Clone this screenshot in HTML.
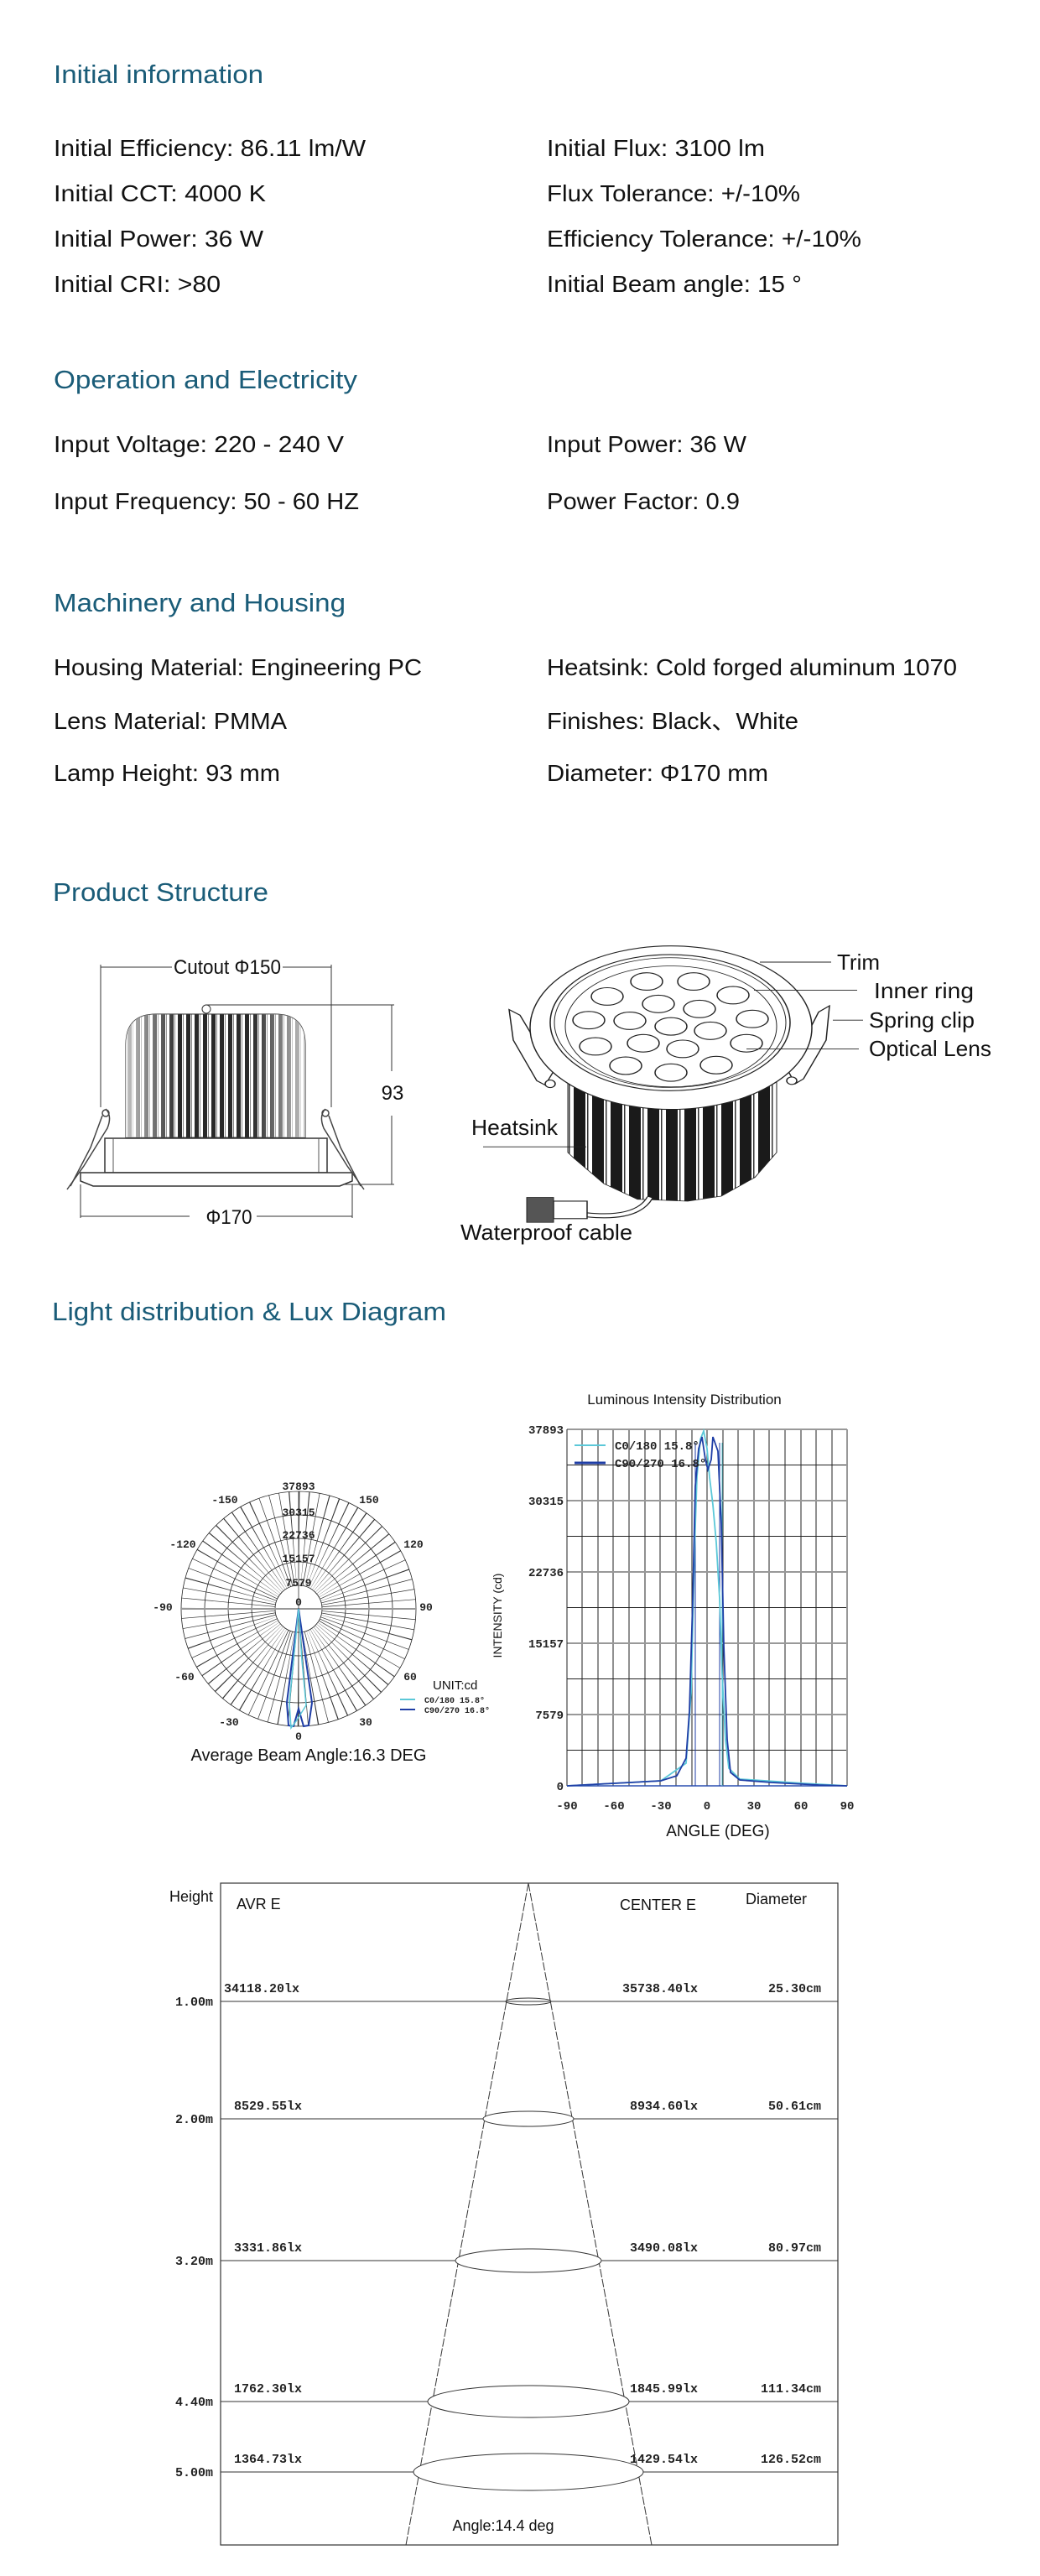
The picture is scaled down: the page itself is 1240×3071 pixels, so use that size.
<!DOCTYPE html>
<html><head><meta charset="utf-8"><style>
html,body{margin:0;padding:0;background:#fff}
svg{display:block}
.h{font-family:"Liberation Sans",sans-serif;font-size:31px;fill:#1a5c78}
.t{font-family:"Liberation Sans","Noto Sans CJK SC",sans-serif;font-size:28px;fill:#111}
.m{font-family:"Liberation Mono",monospace;font-weight:bold;fill:#222}
.s{font-family:"Liberation Sans",sans-serif;fill:#111}
</style></head><body>
<svg width="1240" height="3071" viewBox="0 0 1240 3071" xmlns="http://www.w3.org/2000/svg">
<defs>
<pattern id="fins" x="0" y="0" width="10" height="20" patternUnits="userSpaceOnUse">
<rect x="0" y="0" width="10" height="20" fill="#fff"/><rect x="2" y="0" width="5" height="20" fill="#111"/><rect x="8" y="0" width="1" height="20" fill="#777"/>
</pattern>
<linearGradient id="fade" x1="0" x2="1" y1="0" y2="0">
<stop offset="0" stop-color="#fff" stop-opacity="0.75"/><stop offset="0.3" stop-color="#fff" stop-opacity="0.1"/><stop offset="0.7" stop-color="#fff" stop-opacity="0.1"/><stop offset="1" stop-color="#fff" stop-opacity="0.75"/>
</linearGradient>
<pattern id="hs" x="0" y="0" width="22" height="20" patternUnits="userSpaceOnUse">
<rect width="22" height="20" fill="#fff"/><rect x="2" width="14" height="20" fill="#1a1a1a"/><rect x="18" width="1.5" height="20" fill="#333"/>
</pattern>
</defs>

<!-- Initial information -->
<text class="h" x="64" y="99" textLength="250" lengthAdjust="spacingAndGlyphs">Initial information</text>
<text class="t" x="64" y="186" textLength="372" lengthAdjust="spacingAndGlyphs">Initial  Efficiency: 86.11 lm/W</text>
<text class="t" x="652" y="186" textLength="260" lengthAdjust="spacingAndGlyphs">Initial  Flux: 3100 lm</text>
<text class="t" x="64" y="240" textLength="253" lengthAdjust="spacingAndGlyphs">Initial  CCT: 4000 K</text>
<text class="t" x="652" y="240" textLength="302" lengthAdjust="spacingAndGlyphs">Flux Tolerance: +/-10%</text>
<text class="t" x="64" y="294" textLength="250" lengthAdjust="spacingAndGlyphs">Initial  Power: 36 W</text>
<text class="t" x="652" y="294" textLength="375" lengthAdjust="spacingAndGlyphs">Efficiency Tolerance: +/-10%</text>
<text class="t" x="64" y="348" textLength="199" lengthAdjust="spacingAndGlyphs">Initial  CRI: &gt;80</text>
<text class="t" x="652" y="348" textLength="304" lengthAdjust="spacingAndGlyphs">Initial Beam angle: 15 °</text>

<text class="h" x="64" y="463" textLength="362" lengthAdjust="spacingAndGlyphs">Operation and Electricity</text>
<text class="t" x="64" y="539" textLength="346" lengthAdjust="spacingAndGlyphs">Input Voltage: 220 -  240 V</text>
<text class="t" x="652" y="539" textLength="238" lengthAdjust="spacingAndGlyphs">Input Power: 36 W</text>
<text class="t" x="64" y="607" textLength="364" lengthAdjust="spacingAndGlyphs">Input Frequency: 50 - 60 HZ</text>
<text class="t" x="652" y="607" textLength="230" lengthAdjust="spacingAndGlyphs">Power Factor: 0.9</text>

<text class="h" x="64" y="729" textLength="348" lengthAdjust="spacingAndGlyphs">Machinery and Housing</text>
<text class="t" x="64" y="805" textLength="439" lengthAdjust="spacingAndGlyphs">Housing Material: Engineering PC</text>
<text class="t" x="652" y="805" textLength="489" lengthAdjust="spacingAndGlyphs">Heatsink: Cold forged aluminum 1070</text>
<text class="t" x="64" y="869" textLength="278" lengthAdjust="spacingAndGlyphs">Lens Material: PMMA</text>
<text class="t" x="652" y="869" textLength="300" lengthAdjust="spacingAndGlyphs">Finishes: Black、White</text>
<text class="t" x="64" y="931" textLength="270" lengthAdjust="spacingAndGlyphs">Lamp Height: 93 mm</text>
<text class="t" x="652" y="931" textLength="264" lengthAdjust="spacingAndGlyphs">Diameter: Φ170 mm</text>

<text class="h" x="63" y="1074" textLength="257" lengthAdjust="spacingAndGlyphs">Product Structure</text>

<!-- Left drawing -->
<g stroke="#333" fill="none" stroke-width="1">
<line x1="120" y1="1153" x2="205" y2="1153"/><line x1="337" y1="1153" x2="395" y2="1153"/>
<line x1="120" y1="1150" x2="120" y2="1320"/><line x1="395" y1="1150" x2="395" y2="1320"/>
<line x1="245" y1="1198" x2="470" y2="1198"/>
<line x1="467" y1="1198" x2="467" y2="1277"/><line x1="467" y1="1330" x2="467" y2="1412"/>
<line x1="390" y1="1412" x2="470" y2="1412"/>
<line x1="96" y1="1412" x2="96" y2="1452"/><line x1="420" y1="1412" x2="420" y2="1452"/>
<line x1="96" y1="1450" x2="226" y2="1450"/><line x1="306" y1="1450" x2="420" y2="1450"/>
</g>
<path d="M150,1356 L150,1245 Q150,1209 186,1209 L328,1209 Q364,1209 364,1245 L364,1356 Z" fill="url(#fins)" stroke="#222"/>
<path d="M150,1356 L150,1245 Q150,1209 186,1209 L328,1209 Q364,1209 364,1245 L364,1356 Z" fill="url(#fade)"/>
<circle cx="246" cy="1203" r="5" fill="#fff" stroke="#333"/>
<rect x="125" y="1357" width="265" height="41" fill="#fff" stroke="#333" stroke-width="1.5"/>
<line x1="135" y1="1357" x2="135" y2="1398" stroke="#555"/><line x1="380" y1="1357" x2="380" y2="1398" stroke="#555"/>
<path d="M96,1398 L420,1398 L420,1408 L405,1414 L111,1414 L96,1408 Z" fill="#fff" stroke="#333" stroke-width="1.5"/>
<g stroke="#444" fill="none" stroke-width="1.5">
<path d="M126,1322 Q134,1330 128,1345 L100,1390 L80,1418"/><path d="M122,1330 L108,1368 L84,1414"/><circle cx="126" cy="1327" r="4"/>
<path d="M388,1322 Q380,1330 386,1345 L414,1390 L434,1418"/><path d="M392,1330 L406,1368 L430,1414"/><circle cx="388" cy="1327" r="4"/>
</g>
<text class="s" x="271" y="1161" font-size="24" text-anchor="middle" textLength="128" lengthAdjust="spacingAndGlyphs">Cutout Φ150</text>
<text class="s" x="468" y="1311" font-size="24" text-anchor="middle">93</text>
<text class="s" x="273" y="1459" font-size="24" text-anchor="middle" textLength="55" lengthAdjust="spacingAndGlyphs">Φ170</text>

<!-- Right drawing (vertically compressed) -->
<g transform="translate(0,1147) scale(1,0.744) translate(0,-1165)">
<path d="M677,1340 L926,1340 L926,1470 L900,1510 L860,1540 L820,1548 L760,1545 L720,1520 L685,1480 L677,1470 Z" fill="url(#hs)" stroke="#222"/>
<g stroke="#222" fill="#fff" stroke-width="1.5">
<path d="M607,1241 L620,1250 L660,1340 L650,1362 L640,1355 L612,1290 Z"/>
<path d="M989,1235 L976,1245 L940,1340 L948,1360 L958,1352 L985,1290 Z"/>
<ellipse cx="800" cy="1278" rx="160" ry="120"/>
<ellipse cx="800" cy="1270" rx="168" ry="131"/>
<ellipse cx="799" cy="1262" rx="143" ry="109" fill="none"/>
<ellipse cx="799" cy="1262" rx="138" ry="104" fill="none" stroke-width="1"/>
<ellipse cx="800" cy="1268" rx="126" ry="97" fill="none" stroke-width="1"/>
<circle cx="656" cy="1360" r="6"/><circle cx="944" cy="1355" r="6"/>
</g>
<g stroke="#222" fill="#fff" stroke-width="1.5">
<ellipse cx="771" cy="1196" rx="19" ry="14"/><ellipse cx="827" cy="1196" rx="19" ry="14"/>
<ellipse cx="724" cy="1220" rx="19" ry="14"/><ellipse cx="785" cy="1232" rx="19" ry="14"/><ellipse cx="834" cy="1240" rx="19" ry="14"/><ellipse cx="874" cy="1218" rx="19" ry="14"/>
<ellipse cx="702" cy="1258" rx="19" ry="14"/><ellipse cx="751" cy="1259" rx="19" ry="14"/><ellipse cx="800" cy="1268" rx="19" ry="14"/><ellipse cx="847" cy="1275" rx="19" ry="14"/><ellipse cx="897" cy="1256" rx="19" ry="14"/>
<ellipse cx="710" cy="1300" rx="19" ry="14"/><ellipse cx="767" cy="1295" rx="19" ry="14"/><ellipse cx="814" cy="1304" rx="19" ry="14"/><ellipse cx="890" cy="1295" rx="19" ry="14"/>
<ellipse cx="746" cy="1331" rx="19" ry="14"/><ellipse cx="800" cy="1342" rx="19" ry="14"/><ellipse cx="854" cy="1330" rx="19" ry="14"/>
</g>
<path d="M775,1542 Q760,1578 700,1570" fill="none" stroke="#222" stroke-width="8"/>
<path d="M775,1542 Q760,1578 700,1570" fill="none" stroke="#fff" stroke-width="5"/>
<rect x="660" y="1548" width="40" height="28" fill="#fff" stroke="#222" stroke-width="1.5"/>
<rect x="628" y="1542" width="32" height="40" fill="#555" stroke="#222"/>
<g stroke="#222" stroke-width="1.2">
<line x1="906" y1="1165" x2="991" y2="1165"/><line x1="899" y1="1210" x2="1022" y2="1210"/>
<line x1="993" y1="1258" x2="1029" y2="1258"/><line x1="890" y1="1304" x2="1024" y2="1304"/>
<line x1="576" y1="1461" x2="699" y2="1461"/>
</g>
</g>
<g class="s" font-size="26">
<text x="998" y="1156" textLength="51" lengthAdjust="spacingAndGlyphs">Trim</text>
<text x="1042" y="1190" textLength="119" lengthAdjust="spacingAndGlyphs">Inner ring</text>
<text x="1036" y="1225" textLength="126" lengthAdjust="spacingAndGlyphs">Spring clip</text>
<text x="1036" y="1259" textLength="146" lengthAdjust="spacingAndGlyphs">Optical Lens</text>
<text x="562" y="1353" textLength="103" lengthAdjust="spacingAndGlyphs">Heatsink</text>
<text x="549" y="1478" textLength="205" lengthAdjust="spacingAndGlyphs">Waterproof cable</text>
</g>

<text class="h" x="62" y="1574" textLength="470" lengthAdjust="spacingAndGlyphs">Light distribution &amp; Lux Diagram</text>

<!-- Polar chart -->
<g fill="none" stroke="#222" stroke-width="0.8">
<circle cx="356" cy="1918" r="84" stroke-width="112" stroke="#333" stroke-dasharray="0.7 6.63"/>
<circle cx="356" cy="1918" r="140"/><circle cx="356" cy="1918" r="112"/><circle cx="356" cy="1918" r="84"/><circle cx="356" cy="1918" r="56"/><circle cx="356" cy="1918" r="28" fill="#fff"/>
</g>
<line x1="216" y1="1918" x2="496" y2="1918" stroke="#999" stroke-width="2"/>
<line x1="356" y1="1778" x2="356" y2="2058" stroke="#333" stroke-width="0.8"/>
<path d="M356,1918 L342,2030 L344,2057 L350,2058 L356,2037 L362,2058 L368,2057 L372,2030 Z" fill="none" stroke="#1f3ea6" stroke-width="2"/>
<path d="M356,1918 L345,2030 L347,2060 L353,2052 L365,2033 L360,1980 Z" fill="none" stroke="#5bc8d8" stroke-width="1.5"/>
<g class="m" font-size="13" text-anchor="middle" font-weight="normal">
<text x="356" y="1776">37893</text><text x="356" y="1807">30315</text><text x="356" y="1834">22736</text><text x="356" y="1862">15157</text><text x="356" y="1891">7579</text><text x="356" y="1914">0</text>
<text x="268" y="1792">-150</text><text x="440" y="1792">150</text>
<text x="218" y="1845">-120</text><text x="493" y="1845">120</text>
<text x="194" y="1920">-90</text><text x="508" y="1920">90</text>
<text x="220" y="2003">-60</text><text x="489" y="2003">60</text>
<text x="273" y="2057">-30</text><text x="436" y="2057">30</text>
<text x="356" y="2074">0</text>
</g>
<text class="s" x="516" y="2014" font-size="15">UNIT:cd</text>
<line x1="477" y1="2026" x2="495" y2="2026" stroke="#5bc8d8" stroke-width="2"/>
<line x1="477" y1="2038" x2="495" y2="2038" stroke="#1f3ea6" stroke-width="2"/>
<text class="m" x="506" y="2030" font-size="10" font-weight="normal">C0/180 15.8°</text>
<text class="m" x="506" y="2042" font-size="10" font-weight="normal">C90/270 16.8°</text>
<text class="s" x="368" y="2099" font-size="20" text-anchor="middle">Average Beam Angle:16.3 DEG</text>

<!-- Cartesian chart -->
<text class="s" x="816" y="1674" font-size="17" text-anchor="middle">Luminous Intensity Distribution</text>
<g stroke="#222" stroke-width="1">
<line x1="694" y1="1704" x2="694" y2="2129"/><line x1="713" y1="1704" x2="713" y2="2129"/><line x1="731" y1="1704" x2="731" y2="2129"/><line x1="750" y1="1704" x2="750" y2="2129"/><line x1="769" y1="1704" x2="769" y2="2129"/><line x1="787" y1="1704" x2="787" y2="2129"/><line x1="806" y1="1704" x2="806" y2="2129"/><line x1="825" y1="1704" x2="825" y2="2129"/><line x1="843" y1="1704" x2="843" y2="2129"/><line x1="862" y1="1704" x2="862" y2="2129"/><line x1="880" y1="1704" x2="880" y2="2129"/><line x1="899" y1="1704" x2="899" y2="2129"/><line x1="917" y1="1704" x2="917" y2="2129"/><line x1="936" y1="1704" x2="936" y2="2129"/><line x1="955" y1="1704" x2="955" y2="2129"/><line x1="973" y1="1704" x2="973" y2="2129"/><line x1="992" y1="1704" x2="992" y2="2129"/>
<line x1="676" y1="1746.5" x2="1010" y2="1746.5"/><line x1="676" y1="1831.5" x2="1010" y2="1831.5"/><line x1="676" y1="1916.5" x2="1010" y2="1916.5"/><line x1="676" y1="2001.5" x2="1010" y2="2001.5"/><line x1="676" y1="2086.5" x2="1010" y2="2086.5"/>
</g>
<g stroke="#999" stroke-width="2">
<line x1="676" y1="1704" x2="1010" y2="1704"/><line x1="676" y1="1789" x2="1010" y2="1789"/><line x1="676" y1="1874" x2="1010" y2="1874"/><line x1="676" y1="1959" x2="1010" y2="1959"/><line x1="676" y1="2044" x2="1010" y2="2044"/>
<line x1="1010" y1="1704" x2="1010" y2="2129"/>
</g>
<line x1="676" y1="1704" x2="676" y2="2129" stroke="#222"/>
<line x1="676" y1="2129" x2="1010" y2="2129" stroke="#2a4fb0" stroke-width="1.5"/>
<line x1="829" y1="1720" x2="829" y2="2129" stroke="#1f3ea6"/><line x1="861" y1="1720" x2="861" y2="2129" stroke="#5bc8d8"/><line x1="858" y1="1720" x2="858" y2="2129" stroke="#1f3ea6"/>
<polyline fill="none" stroke="#5bc8d8" stroke-width="1.8" points="676,2129 788,2123 818,2102 824,2018 828,1850 831,1760 835,1716 839,1706 843,1727 846,1761 850,1794 854,1839 858,1906 861,1996 865,2074 869,2108 882,2121 958,2126 1010,2129"/>
<polyline fill="none" stroke="#1f3ea6" stroke-width="1.8" points="676,2129 732,2126 788,2123 807,2117 818,2096 822,2040 826,1906 829,1772 833,1727 837,1713 841,1740 844,1752 848,1740 850,1713 856,1730 860,1817 863,1962 867,2074 871,2113 882,2122 920,2125 976,2128 1010,2129"/>
<line x1="685" y1="1723" x2="722" y2="1723" stroke="#5bc8d8" stroke-width="2"/>
<line x1="685" y1="1744" x2="722" y2="1744" stroke="#1f3ea6" stroke-width="3"/>
<g class="m" font-size="14" font-weight="normal">
<text x="733" y="1728">C0/180 15.8°</text><text x="733" y="1749">C90/270 16.8°</text>
</g>
<g class="m" font-size="14" font-weight="normal" text-anchor="end">
<text x="672" y="1709">37893</text><text x="672" y="1794">30315</text><text x="672" y="1879">22736</text><text x="672" y="1964">15157</text><text x="672" y="2049">7579</text><text x="672" y="2134">0</text>
</g>
<g class="m" font-size="14" font-weight="normal" text-anchor="middle">
<text x="676" y="2157">-90</text><text x="732" y="2157">-60</text><text x="788" y="2157">-30</text><text x="843" y="2157">0</text><text x="899" y="2157">30</text><text x="955" y="2157">60</text><text x="1010" y="2157">90</text>
</g>
<text class="s" x="856" y="2189" font-size="19" text-anchor="middle">ANGLE (DEG)</text>
<text class="s" x="598" y="1926" font-size="14" text-anchor="middle" transform="rotate(-90 598 1926)">INTENSITY (cd)</text>

<!-- Lux diagram -->
<rect x="263" y="2245" width="736" height="789" fill="none" stroke="#333" stroke-width="1.2"/>
<g stroke="#333" stroke-width="1">
<line x1="263" y1="2386" x2="999" y2="2386"/><line x1="263" y1="2526" x2="999" y2="2526"/><line x1="263" y1="2695" x2="999" y2="2695"/><line x1="263" y1="2863" x2="999" y2="2863"/><line x1="263" y1="2947" x2="999" y2="2947"/>
</g>
<g fill="none" stroke="#333" stroke-width="1">
<line x1="630" y1="2245" x2="484" y2="3034" stroke-dasharray="10 2"/><line x1="630" y1="2245" x2="777" y2="3034" stroke-dasharray="10 2"/>
<ellipse cx="630" cy="2386" rx="27" ry="4"/><ellipse cx="630" cy="2526" rx="54" ry="9" fill="#fff"/><ellipse cx="630" cy="2695" rx="87" ry="14" fill="#fff"/><ellipse cx="630" cy="2863" rx="120" ry="19" fill="#fff"/><ellipse cx="630" cy="2947" rx="137" ry="22" fill="#fff"/>
</g>
<g class="s" font-size="18">
<text x="254" y="2267" text-anchor="end">Height</text>
<text x="282" y="2276">AVR E</text>
<text x="739" y="2277">CENTER E</text>
<text x="889" y="2270">Diameter</text>
<text x="600" y="3017" text-anchor="middle">Angle:14.4 deg</text>
</g>
<g class="m" font-size="15">
<text x="254" y="2391" text-anchor="end">1.00m</text><text x="254" y="2531" text-anchor="end">2.00m</text><text x="254" y="2700" text-anchor="end">3.20m</text><text x="254" y="2868" text-anchor="end">4.40m</text><text x="254" y="2952" text-anchor="end">5.00m</text>
<text x="267" y="2375">34118.20lx</text><text x="279" y="2515">8529.55lx</text><text x="279" y="2684">3331.86lx</text><text x="279" y="2852">1762.30lx</text><text x="279" y="2936">1364.73lx</text>
<g text-anchor="end">
<text x="832" y="2375">35738.40lx</text><text x="832" y="2515">8934.60lx</text><text x="832" y="2684">3490.08lx</text><text x="832" y="2852">1845.99lx</text><text x="832" y="2936">1429.54lx</text>
<text x="979" y="2375">25.30cm</text><text x="979" y="2515">50.61cm</text><text x="979" y="2684">80.97cm</text><text x="979" y="2852">111.34cm</text><text x="979" y="2936">126.52cm</text>
</g>
</g>
</svg>
</body></html>
